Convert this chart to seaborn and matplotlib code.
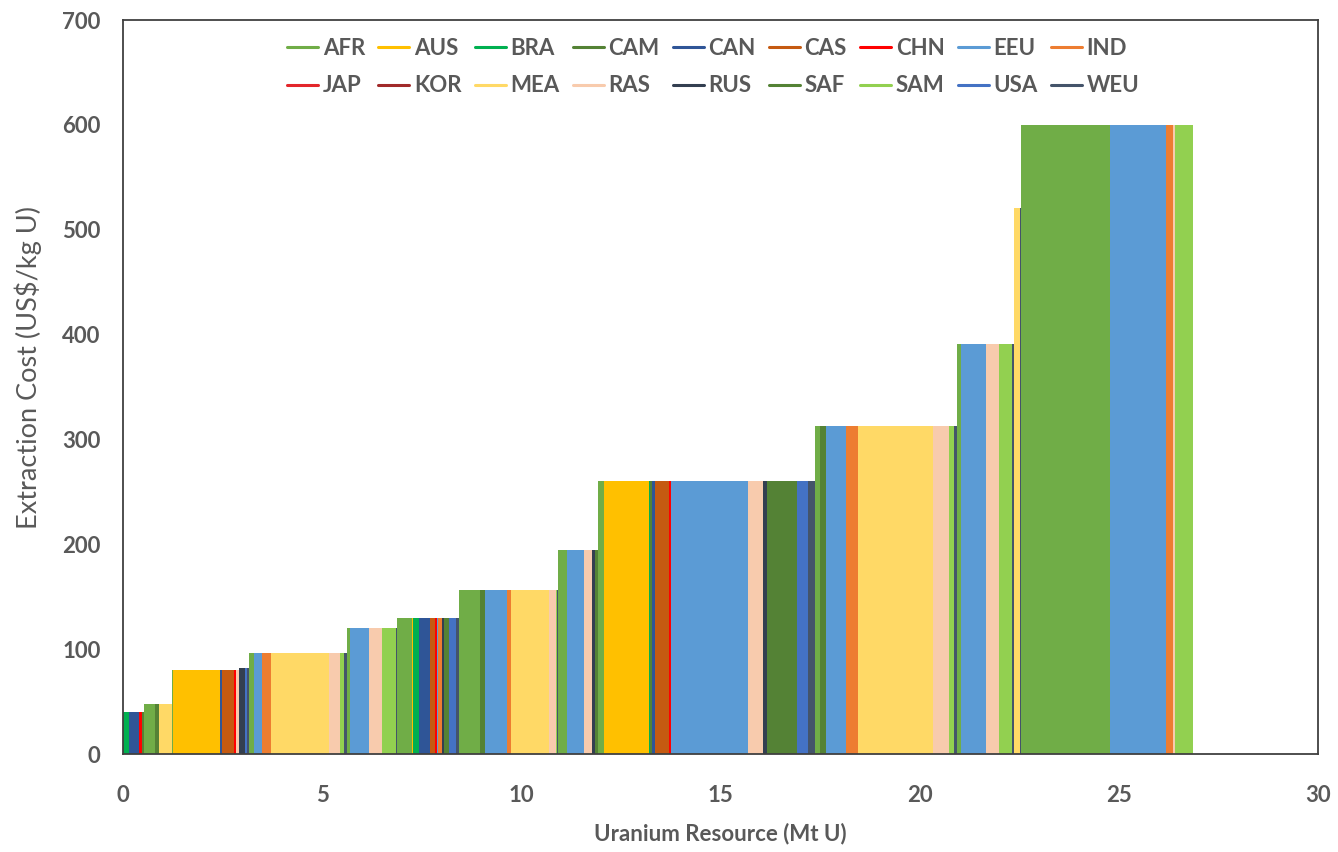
import numpy as np
import pandas as pd
import matplotlib
matplotlib.use("Agg")
import matplotlib.pyplot as plt
from matplotlib.lines import Line2D
import seaborn as sns

# Regions, in legend order
regions = ["AFR", "AUS", "BRA", "CAM", "CAN", "CAS", "CHN", "EEU", "IND",
           "JAP", "KOR", "MEA", "RAS", "RUS", "SAF", "SAM", "USA", "WEU"]

region_colors = ["#70AD47", "#FFC000", "#00B050", "#548235", "#2F5597", "#C55A11",
                 "#FF0000", "#5B9BD5", "#ED7D31", "#E3262B", "#A12A2A", "#FFD966",
                 "#F8CBAD", "#333F50", "#548235", "#92D050", "#4472C4", "#44546A"]

# Supply curve steps in merit order: region, extraction cost and resource size
step_region = [
    "BRA", "CAN", "CHN", "SAF",
    "AFR", "CAM", "MEA",
    "AFR", "AUS", "CAN", "CAS", "CHN", "RAS",
    "RUS", "USA", "WEU",
    "AFR", "EEU", "IND", "MEA", "RAS", "SAM", "WEU",
    "AFR", "EEU", "RAS", "SAM", "WEU",
    "AFR", "AUS", "BRA", "CAN", "CAS", "CHN", "EEU", "IND", "RUS", "SAF", "USA", "WEU",
    "AFR", "CAM", "EEU", "IND", "MEA", "RAS", "SAM", "WEU",
    "AFR", "EEU", "RAS", "RUS", "SAF",
    "AFR", "AUS", "BRA", "CAM", "CAN", "CAS", "CHN", "EEU", "RAS", "RUS", "SAF", "USA", "WEU",
    "AFR", "CAM", "EEU", "IND", "MEA", "RAS", "SAM", "WEU",
    "AFR", "EEU", "RAS", "SAM", "WEU",
    "EEU", "MEA", "WEU",
    "AFR", "EEU", "IND", "RAS", "SAM",
]
step_cost = [
    40, 40, 40, 40,
    48, 48, 48,
    80, 80, 80, 80, 80, 80,
    82, 82, 82,
    96, 96, 96, 96, 96, 96, 96,
    120, 120, 120, 120, 120,
    130, 130, 130, 130, 130, 130, 130, 130, 130, 130, 130, 130,
    156, 156, 156, 156, 156, 156, 156, 156,
    195, 195, 195, 195, 195,
    260, 260, 260, 260, 260, 260, 260, 260, 260, 260, 260, 260, 260,
    313, 313, 313, 313, 313, 313, 313, 313,
    391, 391, 391, 391, 391,
    521, 521, 521,
    600, 600, 600, 600, 600,
]
step_resource = [
    0.16, 0.25, 0.06, 0.07,
    0.26, 0.11, 0.31,
    0.03, 1.19, 0.04, 0.31, 0.05, 0.08,
    0.14, 0.05, 0.06,
    0.11, 0.21, 0.23, 1.45, 0.28, 0.10, 0.08,
    0.08, 0.46, 0.34, 0.34, 0.02,
    0.39, 0.03, 0.13, 0.29, 0.12, 0.06, 0.03, 0.08, 0.07, 0.12, 0.17, 0.08,
    0.52, 0.13, 0.56, 0.08, 0.97, 0.16, 0.04, 0.03,
    0.22, 0.43, 0.19, 0.08, 0.08,
    0.14, 1.14, 0.03, 0.04, 0.08, 0.35, 0.06, 1.93, 0.38, 0.08, 0.77, 0.28, 0.16,
    0.13, 0.15, 0.50, 0.31, 1.88, 0.41, 0.12, 0.07,
    0.10, 0.63, 0.33, 0.33, 0.03,
    0.02, 0.14, 0.03,
    2.23, 1.41, 0.16, 0.06, 0.45,
]

x_ticks = [0, 5, 10, 15, 20, 25, 30]
y_ticks = [0, 100, 200, 300, 400, 500, 600, 700]

palette = dict(zip(regions, region_colors))
text_grey = "#595959"
frame_grey = "#404040"

# Each step becomes one bin whose height is the step's cost
edges = np.concatenate([[0.0], np.cumsum(step_resource)])
mids = (edges[:-1] + edges[1:]) / 2
steps = pd.DataFrame({"region": step_region, "cost": step_cost, "resource": mids})

sns.set_theme(style="white")
plt.rcParams["font.family"] = ["Lato", "DejaVu Sans"]

fig, ax = plt.subplots(figsize=(13.38, 8.52), dpi=100)
fig.subplots_adjust(left=0.0919, right=0.985, top=0.9765, bottom=0.115)

sns.histplot(data=steps, x="resource", weights="cost", hue="region",
             hue_order=regions, palette=palette, bins=[float(e) for e in edges],
             multiple="layer", element="bars", fill=True, alpha=1,
             linewidth=0, legend=False, ax=ax)

ax.set_xlim(0, 30)
ax.set_ylim(0, 700)
ax.set_xticks(x_ticks)
ax.set_yticks(y_ticks)
ax.tick_params(axis="both", length=0, labelsize=16, labelcolor=text_grey)
ax.tick_params(axis="x", pad=22)
ax.tick_params(axis="y", pad=16)
for lab in ax.get_xticklabels() + ax.get_yticklabels():
    lab.set_fontweight("bold")

for side in ["left", "right", "top", "bottom"]:
    ax.spines[side].set_visible(True)
    ax.spines[side].set_color(frame_grey)
    ax.spines[side].set_linewidth(1.3)

ax.set_xlabel("Uranium Resource (Mt U)", fontsize=16, fontweight="bold",
              color=text_grey, labelpad=12)
ax.set_ylabel("Extraction Cost (US$/kg U)", fontsize=19.5, color=text_grey)
ax.yaxis.set_label_coords(-0.068, 0.527)

# Legend laid out row by row (two rows of nine)
handles = [Line2D([0], [0], color=palette[r], lw=2.2) for r in regions]
order = [i + j * 9 for i in range(9) for j in range(2)]
leg = ax.legend([handles[k] for k in order], [regions[k] for k in order],
                ncol=9, loc="upper center", bbox_to_anchor=(0.494, 1.003),
                frameon=False, handlelength=1.4, handletextpad=0.2,
                columnspacing=0.6, labelspacing=0.75,
                prop={"size": 16, "weight": "bold"})
for t in leg.get_texts():
    t.set_color(text_grey)

fig.savefig("out.png", dpi=100)
